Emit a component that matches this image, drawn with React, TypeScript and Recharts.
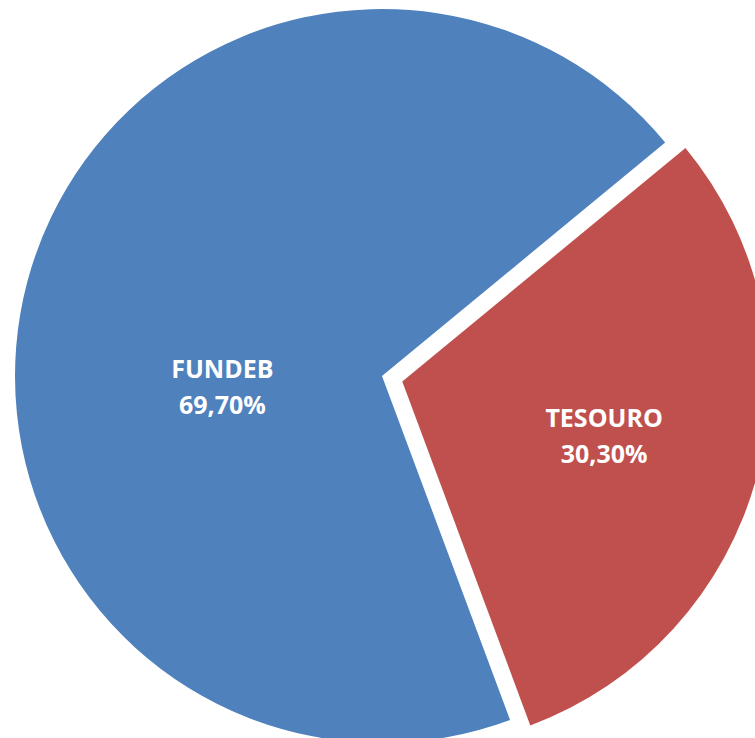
import React from 'react';
import { PieChart, Pie, Cell } from 'recharts';

const categories = ['FUNDEB', 'TESOURO'];
const shares = [69.7, 30.3];
const colors = ['#4F81BD', '#C0504D'];

const data = categories.map((name, i) => ({ name, value: shares[i] }));

const WIDTH = 755;
const HEIGHT = 738;
const CX = 382;
const CY = 376;
const RADIUS = 367;
const START = 39.5;
const EXPLODE = 21;
// which slice is pulled out of the pie
const EXPLODED = 1;
// label placement per slice: distance from centre and shift from mid angle
const labelRadius = [160, 209];
const labelShift = [19, 0];

const RAD = Math.PI / 180;
const total = shares.reduce((a, b) => a + b, 0);

const midAngles = shares.map((v, i) => {
  const before = shares.slice(0, i).reduce((a, b) => a + b, 0);
  return START + ((before + v / 2) / total) * 360;
});

const explodeX = EXPLODE * Math.cos(midAngles[EXPLODED] * RAD);
const explodeY = -EXPLODE * Math.sin(midAngles[EXPLODED] * RAD);

const fmt = (v: number) => v.toFixed(2).replace('.', ',') + '%';

const makeLabel = (only: number, cx: number, cy: number) => (props: any) => {
  const { index } = props;
  if (index !== only) return null;
  const a = (midAngles[index] + labelShift[index]) * RAD;
  const x = cx + labelRadius[index] * Math.cos(a);
  const y = cy - labelRadius[index] * Math.sin(a);
  return (
    <text
      x={x}
      y={y}
      textAnchor='middle'
      fill='#ffffff'
      fontFamily='"Open Sans", sans-serif'
      fontWeight={700}
      fontSize={25}
    >
      <tspan x={x} dy={-9}>
        {data[index].name}
      </tspan>
      <tspan x={x} dy={36}>
        {fmt(data[index].value)}
      </tspan>
    </text>
  );
};

const App: React.FC = () => {
  return (
    <div style={{ position: 'absolute', left: 0, top: 0, background: '#fff' }}>
      <PieChart
        width={WIDTH}
        height={HEIGHT}
        margin={{ top: 0, right: 0, bottom: 0, left: 0 }}
      >
        <Pie
          data={data}
          dataKey='value'
          nameKey='name'
          cx={CX}
          cy={CY}
          outerRadius={RADIUS}
          startAngle={START}
          endAngle={START + 360}
          stroke='none'
          labelLine={false}
          label={makeLabel(0, CX, CY)}
          isAnimationActive={false}
        >
          {data.map((d, i) => (
            <Cell key={d.name} fill={i === EXPLODED ? 'transparent' : colors[i]} />
          ))}
        </Pie>
        <Pie
          data={data}
          dataKey='value'
          nameKey='name'
          cx={CX + explodeX}
          cy={CY + explodeY}
          outerRadius={RADIUS}
          startAngle={START}
          endAngle={START + 360}
          stroke='none'
          labelLine={false}
          label={makeLabel(EXPLODED, CX + explodeX, CY + explodeY)}
          isAnimationActive={false}
        >
          {data.map((d, i) => (
            <Cell key={d.name} fill={i === EXPLODED ? colors[i] : 'transparent'} />
          ))}
        </Pie>
      </PieChart>
    </div>
  );
};

export default App;
